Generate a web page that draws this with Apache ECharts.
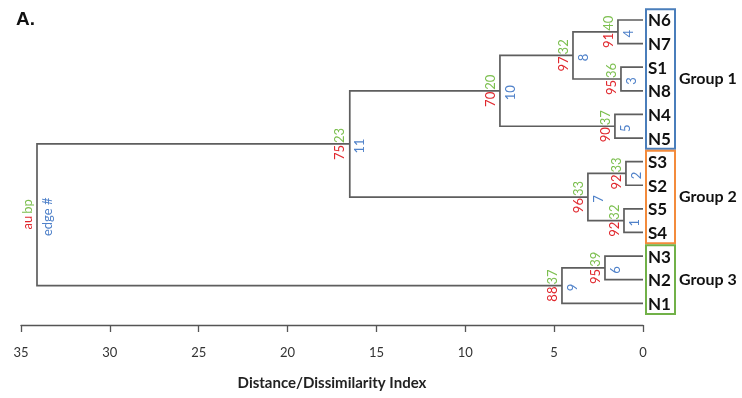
<!DOCTYPE html>
<html>
<head>
<meta charset="utf-8">
<script src="https://cdn.jsdelivr.net/npm/echarts@6/dist/echarts.min.js"></script>
<style>
  html, body { margin: 0; padding: 0; background: #fff; }
  #chart { width: 742px; height: 398px; }
</style>
</head>
<body>
<div id="chart"></div>
<script>
// leaves, top to bottom
const leaves = ['N6', 'N7', 'S1', 'N8', 'N4', 'N5', 'S3', 'S2', 'S5', 'S4', 'N3', 'N2', 'N1'];

// hclust-style merges: negative = leaf (1-based), positive = earlier merge (1-based)
const mergeA = [-9, -7, -3, -1, -5, -11, 2, 4, 6, 8, 10, 11];
const mergeB = [-10, -8, -4, -2, -6, -12, 1, 3, -13, 5, 7, 9];
const mergeHeight = [1.07, 0.96, 1.24, 1.41, 1.58, 2.14, 3.1, 3.94, 4.56, 8.05, 16.5, 34.1];

// pvclust values per edge (last merge is the root: legend text)
const auValues = [92, 92, 95, 91, 90, 95, 96, 97, 88, 70, 75];
const bpValues = [32, 33, 36, 40, 37, 39, 33, 32, 37, 20, 23];

const groupNames = ['Group 1', 'Group 2', 'Group 3'];
const groupStart = [0, 6, 10];
const groupEnd = [5, 9, 12];
const groupColors = ['#4a7ebb', '#f38b3c', '#71b148'];

const xTicks = [0, 35, 5]; // min, max, step

const AU_COLOR = '#e0282e';
const BP_COLOR = '#7cbf4f';
const EDGE_COLOR = '#4f81c9';
const LINE_COLOR = '#5e5e5e';

// y position (in leaf units) of each merge node
const nodeY = [];
const childPos = (ref) => (ref < 0 ? [0, -ref - 1] : [mergeHeight[ref - 1], nodeY[ref - 1]]);
mergeA.forEach((a, i) => {
  const pa = childPos(a);
  const pb = childPos(mergeB[i]);
  nodeY.push((pa[1] + pb[1]) / 2);
});

const treeData = mergeA.map((a, i) => {
  const pa = childPos(a);
  const pb = childPos(mergeB[i]);
  return [mergeHeight[i], nodeY[i], pa[0], pa[1], pb[0], pb[1], i];
});

const renderMerge = (params, api) => {
  const h = api.value(0);
  const p1 = api.coord([api.value(2), api.value(3)]);
  const p2 = api.coord([h, api.value(3)]);
  const p3 = api.coord([h, api.value(5)]);
  const p4 = api.coord([api.value(4), api.value(5)]);
  const node = api.coord([h, api.value(1)]);
  const i = api.value(6);
  const isRoot = i === mergeA.length - 1;
  const txt = (text, color, align, vAlign, dx, dy) => ({
    type: 'text',
    x: node[0] + dx,
    y: node[1] + dy,
    rotation: Math.PI / 2,
    style: {
      text: text,
      fill: color,
      align: align,
      verticalAlign: vAlign,
      fontSize: 13,
      fontFamily: 'Lato',
    },
  });
  return {
    type: 'group',
    children: [
      {
        type: 'polyline',
        shape: { points: [p1, p2, p3, p4] },
        style: { stroke: LINE_COLOR, lineWidth: 1.7, fill: null },
      },
      txt(isRoot ? 'au' : String(auValues[i]), AU_COLOR, 'right', 'bottom', -3, 1),
      txt(isRoot ? 'bp' : String(bpValues[i]), BP_COLOR, 'left', 'bottom', -3, -1),
      txt(isRoot ? 'edge #' : String(i + 1), EDGE_COLOR, 'center', 'top', 4, 2),
    ],
  };
};

const renderLeaf = (params, api) => {
  const p = api.coord([0, api.value(1)]);
  return {
    type: 'text',
    x: p[0] + 5,
    y: p[1] + 1,
    style: {
      text: leaves[api.value(2)],
      fill: '#111',
      align: 'left',
      verticalAlign: 'middle',
      fontSize: 17,
      fontWeight: 'bold',
      fontFamily: 'Lato',
    },
  };
};

const renderGroup = (params, api) => {
  const top = api.coord([0, api.value(0) - 0.5]);
  const bottom = api.coord([0, api.value(1) + 0.5]);
  const i = api.value(2);
  const x0 = top[0] + 3;
  return {
    type: 'group',
    children: [
      {
        type: 'rect',
        shape: { x: x0, y: top[1] + 1, width: 29, height: bottom[1] - top[1] - 2 },
        style: { stroke: groupColors[i], lineWidth: 2, fill: null },
      },
      {
        type: 'text',
        x: x0 + 33,
        y: (top[1] + bottom[1]) / 2,
        style: {
          text: groupNames[i],
          fill: '#111',
          align: 'left',
          verticalAlign: 'middle',
          fontSize: 16,
          fontWeight: 'bold',
          fontFamily: 'Lato',
        },
      },
    ],
  };
};

const chart = echarts.init(document.getElementById('chart'));

chart.setOption({
  animation: false,
  title: {
    text: 'A.',
    left: 11,
    top: 5,
    textStyle: { fontSize: 19, fontWeight: 'bold', color: '#111', fontFamily: 'Liberation Sans' },
  },
  grid: { left: 21, right: 99, top: 20, bottom: 73 },
  xAxis: {
    type: 'value',
    inverse: true,
    min: xTicks[0],
    max: xTicks[1],
    interval: xTicks[2],
    axisLine: { show: true, onZero: false, lineStyle: { color: '#555', width: 1.3 } },
    axisTick: { show: true, length: 7, lineStyle: { color: '#555', width: 1.3 } },
    axisLabel: { margin: 21, fontSize: 13, color: '#333', fontFamily: 'Lato' },
    splitLine: { show: false },
    name: 'Distance/Dissimilarity Index',
    nameLocation: 'middle',
    nameGap: 51,
    nameTextStyle: { fontSize: 15, fontWeight: 'bold', color: '#222', fontFamily: 'Lato' },
  },
  yAxis: {
    type: 'value',
    inverse: true,
    min: 0,
    max: 12.92,
    show: false,
  },
  series: [
    {
      type: 'custom',
      renderItem: renderMerge,
      data: treeData,
      clip: false,
      silent: true,
    },
    {
      type: 'custom',
      renderItem: renderLeaf,
      data: leaves.map((name, i) => [0, i, i]),
      clip: false,
      silent: true,
    },
    {
      type: 'custom',
      renderItem: renderGroup,
      data: groupStart.map((s, i) => [s, groupEnd[i], i]),
      clip: false,
      silent: true,
    },
  ],
});
</script>
</body>
</html>
